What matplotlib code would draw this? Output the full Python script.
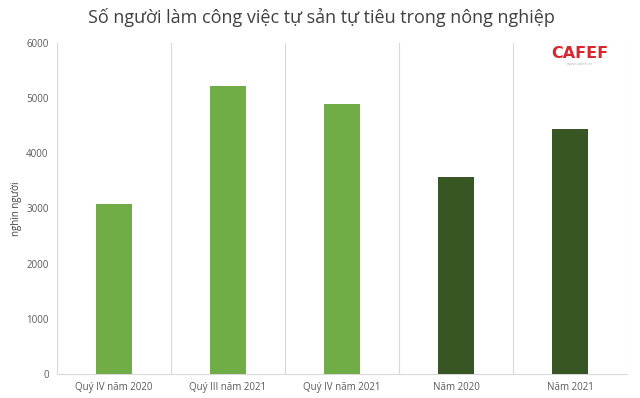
import matplotlib
matplotlib.use("Agg")
import matplotlib.pyplot as plt

plt.rcParams['font.family'] = ['Open Sans', 'DejaVu Sans']

categories = ["Quý IV năm 2020", "Quý III năm 2021", "Quý IV năm 2021", "Năm 2020", "Năm 2021"]
values = [3080, 5210, 4900, 3570, 4440]
colors = ["#70AD47", "#70AD47", "#70AD47", "#375623", "#375623"]
yticks = [0, 1000, 2000, 3000, 4000, 5000, 6000]

fig = plt.figure(figsize=(6.4, 3.98), dpi=100)
ax = fig.add_axes([0.089, 0.0603, 0.891, 0.832])
x = list(range(len(categories)))
ax.bar(x, values, width=0.31, color=colors, zorder=3)
ax.set_xlim(-0.5, len(categories) - 0.5)
ax.set_ylim(0, 6000)
ax.set_yticks(yticks)
ax.set_yticklabels([str(t) for t in yticks], fontsize=7, color="#595959")
ax.set_xticks(x)
ax.set_xticklabels(categories, fontsize=7, color="#595959")
for b in [i - 0.5 for i in range(len(categories) + 1)]:
    ax.axvline(b, color="#d9d9d9", lw=0.8, zorder=1)
for s in ["top", "right", "left"]:
    ax.spines[s].set_visible(False)
ax.spines["bottom"].set_color("#d9d9d9")
ax.tick_params(axis="both", length=0, pad=6)
ax.set_ylabel("nghìn người", fontsize=7, color="#404040", labelpad=3)

fig.text(0.502, 0.955, "Số người làm công việc tự sản tự tiêu trong nông nghiệp",
         ha="center", va="center", fontsize=13, color="#404040")
fig.text(0.906, 0.866, "CAFEF", ha="center", va="center", fontsize=11.5,
         fontweight="heavy", color="#d7262e", family="DejaVu Sans")
fig.text(0.906, 0.838, "www.cafef.vn", ha="center", va="center", fontsize=3,
         color="#b0b0b0")

fig.savefig("out.png", dpi=100)
